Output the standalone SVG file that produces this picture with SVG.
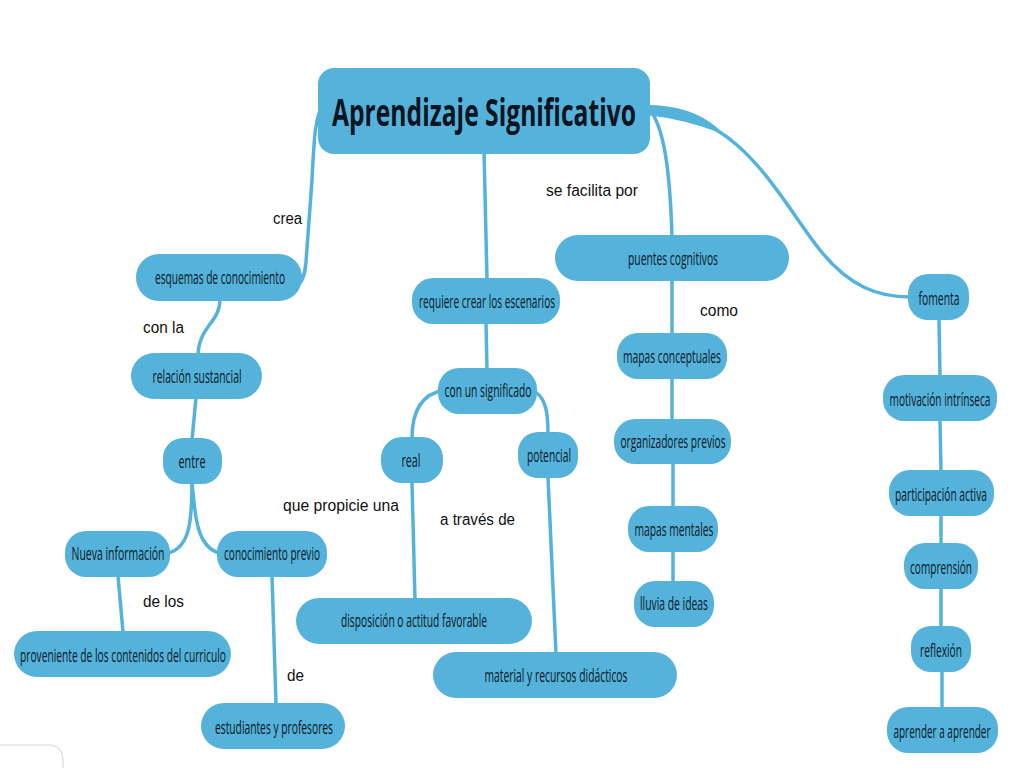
<svg xmlns="http://www.w3.org/2000/svg" width="1024" height="768" viewBox="0 0 1024 768">
<style>
.n{fill:#55b3db}
.t{font-family:"Open Sans","Noto Sans",sans-serif;font-size:19px;fill:#0c1826;text-anchor:middle;dominant-baseline:central}
.ti{font-family:"Open Sans","Noto Sans",sans-serif;font-size:38px;font-weight:bold;fill:#0b1420;text-anchor:middle;dominant-baseline:central}
.l{font-family:"Liberation Sans","Noto Sans",sans-serif;font-size:16px;fill:#111}
.c{fill:none;stroke:#55b3db;stroke-width:3.5;stroke-linecap:round}
</style>
<rect x="0" y="0" width="1024" height="768" fill="#ffffff"/>
<path d="M0 745 L50 745 Q62 746 63 760 L63 768" fill="none" stroke="#d8d8d8" stroke-width="1.2"/>
<g id="connectors">
<path class="c" d="M324 104 C315 114 314 140 312 180 L306 262 C305 272 304 278 300 283"/>
<path class="c" d="M484 150 L487 280"/>
<path class="c" d="M650 110 C664 128 670 170 672 237"/>
<path class="c" d="M648 110 C740 110 780 200 820 250 C850 288 880 297 910 297"/>
<path d="M646 105 Q692 105 718 128.5 L720 133 Q684 119 646 115 Z" fill="#55b3db"/>
<path class="c" d="M220 300 C220 322 200 325 198 354"/>
<path class="c" d="M196 398 L192 440"/>
<path class="c" d="M192 482 C192 520 190 548 168 553"/>
<path class="c" d="M192 482 C195 520 198 548 220 553"/>
<path class="c" d="M118 576 L123 632"/>
<path class="c" d="M272 576 L276 704"/>
<path class="c" d="M486 322 L487 370"/>
<path class="c" d="M444 390 C422 394 412 410 412 438"/>
<path class="c" d="M532 390 C545 396 548 410 548 433"/>
<path class="c" d="M412 482 L415 600"/>
<path class="c" d="M548 477 L556 654"/>
<path class="c" d="M672 280 L672 335"/>
<path class="c" d="M672 378 L672 420"/>
<path class="c" d="M673 463 L673 507"/>
<path class="c" d="M673 551 L673 582"/>
<path class="c" d="M939 319 L940 376"/>
<path class="c" d="M940 420 L941 471"/>
<path class="c" d="M941 515 L941 544"/>
<path class="c" d="M941 588 L941 627"/>
<path class="c" d="M942 671 L942 708"/>
</g>
<g id="labels">
<text class="l" x="273" y="224" textLength="29" lengthAdjust="spacingAndGlyphs">crea</text>
<text class="l" x="546" y="196" textLength="92" lengthAdjust="spacingAndGlyphs">se facilita por</text>
<text class="l" x="143" y="333" textLength="41" lengthAdjust="spacingAndGlyphs">con la</text>
<text class="l" x="700" y="316" textLength="38" lengthAdjust="spacingAndGlyphs">como</text>
<text class="l" x="283" y="511" textLength="116" lengthAdjust="spacingAndGlyphs">que propicie una</text>
<text class="l" x="440" y="525" textLength="75" lengthAdjust="spacingAndGlyphs">a través de</text>
<text class="l" x="143" y="607" textLength="41" lengthAdjust="spacingAndGlyphs">de los</text>
<text class="l" x="287" y="681" textLength="17" lengthAdjust="spacingAndGlyphs">de</text>
</g>
<g id="n-main"><rect class="n" x="318" y="68" width="332" height="86" rx="16"/><text class="ti" x="484" y="111" textLength="304" lengthAdjust="spacingAndGlyphs">Aprendizaje Significativo</text></g>
<g id="n-esquemas"><rect class="n" x="136" y="254" width="166" height="47" rx="23"/><text class="t" x="220" y="277" textLength="130" lengthAdjust="spacingAndGlyphs">esquemas de conocimiento</text></g>
<g id="n-relacion"><rect class="n" x="131" y="353" width="131" height="46" rx="23"/><text class="t" x="197" y="376" textLength="89" lengthAdjust="spacingAndGlyphs">relación sustancial</text></g>
<g id="n-entre"><rect class="n" x="163" y="438" width="59" height="46" rx="20"/><text class="t" x="192" y="461" textLength="27" lengthAdjust="spacingAndGlyphs">entre</text></g>
<g id="n-nueva"><rect class="n" x="65" y="531" width="105" height="46" rx="21"/><text class="t" x="118" y="553" textLength="93" lengthAdjust="spacingAndGlyphs">Nueva información</text></g>
<g id="n-conprevio"><rect class="n" x="217" y="531" width="110" height="46" rx="21"/><text class="t" x="272" y="553" textLength="96" lengthAdjust="spacingAndGlyphs">conocimiento previo</text></g>
<g id="n-proveniente"><rect class="n" x="14" y="631" width="217" height="46" rx="23"/><text class="t" x="123" y="655" textLength="206" lengthAdjust="spacingAndGlyphs">proveniente de los contenidos del curriculo</text></g>
<g id="n-estudiantes"><rect class="n" x="201" y="703" width="144" height="46" rx="23"/><text class="t" x="274" y="727" textLength="118" lengthAdjust="spacingAndGlyphs">estudiantes y profesores</text></g>
<g id="n-requiere"><rect class="n" x="412" y="278" width="148" height="46" rx="21"/><text class="t" x="487" y="301" textLength="136" lengthAdjust="spacingAndGlyphs">requiere crear los escenarios</text></g>
<g id="n-significado"><rect class="n" x="438" y="368" width="99" height="46" rx="21"/><text class="t" x="488" y="390" textLength="87" lengthAdjust="spacingAndGlyphs">con un significado</text></g>
<g id="n-real"><rect class="n" x="381" y="437" width="62" height="46" rx="21"/><text class="t" x="411" y="460" textLength="19" lengthAdjust="spacingAndGlyphs">real</text></g>
<g id="n-potencial"><rect class="n" x="518" y="432" width="60" height="46" rx="20"/><text class="t" x="549" y="455" textLength="44" lengthAdjust="spacingAndGlyphs">potencial</text></g>
<g id="n-disposicion"><rect class="n" x="296" y="598" width="236" height="46" rx="23"/><text class="t" x="414" y="620" textLength="146" lengthAdjust="spacingAndGlyphs">disposición o actitud favorable</text></g>
<g id="n-material"><rect class="n" x="433" y="652" width="244" height="46" rx="23"/><text class="t" x="556" y="675" textLength="143" lengthAdjust="spacingAndGlyphs">material y recursos didácticos</text></g>
<g id="n-puentes"><rect class="n" x="555" y="235" width="234" height="46" rx="23"/><text class="t" x="673" y="258" textLength="90" lengthAdjust="spacingAndGlyphs">puentes cognitivos</text></g>
<g id="n-mapasc"><rect class="n" x="617" y="333" width="110" height="46" rx="21"/><text class="t" x="672" y="356" textLength="98" lengthAdjust="spacingAndGlyphs">mapas conceptuales</text></g>
<g id="n-organizadores"><rect class="n" x="614" y="419" width="117" height="45" rx="21"/><text class="t" x="673" y="441" textLength="105" lengthAdjust="spacingAndGlyphs">organizadores previos</text></g>
<g id="n-mapasm"><rect class="n" x="628" y="506" width="90" height="46" rx="21"/><text class="t" x="674" y="529" textLength="79" lengthAdjust="spacingAndGlyphs">mapas mentales</text></g>
<g id="n-lluvia"><rect class="n" x="634" y="581" width="80" height="46" rx="21"/><text class="t" x="674" y="603" textLength="68" lengthAdjust="spacingAndGlyphs">lluvia de ideas</text></g>
<g id="n-fomenta"><rect class="n" x="908" y="274" width="61" height="46" rx="20"/><text class="t" x="939" y="298" textLength="41" lengthAdjust="spacingAndGlyphs">fomenta</text></g>
<g id="n-motivacion"><rect class="n" x="883" y="375" width="114" height="46" rx="21"/><text class="t" x="940" y="399" textLength="101" lengthAdjust="spacingAndGlyphs">motivación intrínseca</text></g>
<g id="n-participacion"><rect class="n" x="889" y="470" width="105" height="46" rx="21"/><text class="t" x="941" y="494" textLength="92" lengthAdjust="spacingAndGlyphs">participación activa</text></g>
<g id="n-comprension"><rect class="n" x="904" y="543" width="74" height="46" rx="21"/><text class="t" x="941" y="567" textLength="62" lengthAdjust="spacingAndGlyphs">comprensión</text></g>
<g id="n-reflexion"><rect class="n" x="911" y="626" width="60" height="46" rx="20"/><text class="t" x="941" y="650" textLength="42" lengthAdjust="spacingAndGlyphs">reflexión</text></g>
<g id="n-aprender"><rect class="n" x="887" y="707" width="111" height="46" rx="21"/><text class="t" x="942" y="731" textLength="97" lengthAdjust="spacingAndGlyphs">aprender a aprender</text></g>
</svg>
